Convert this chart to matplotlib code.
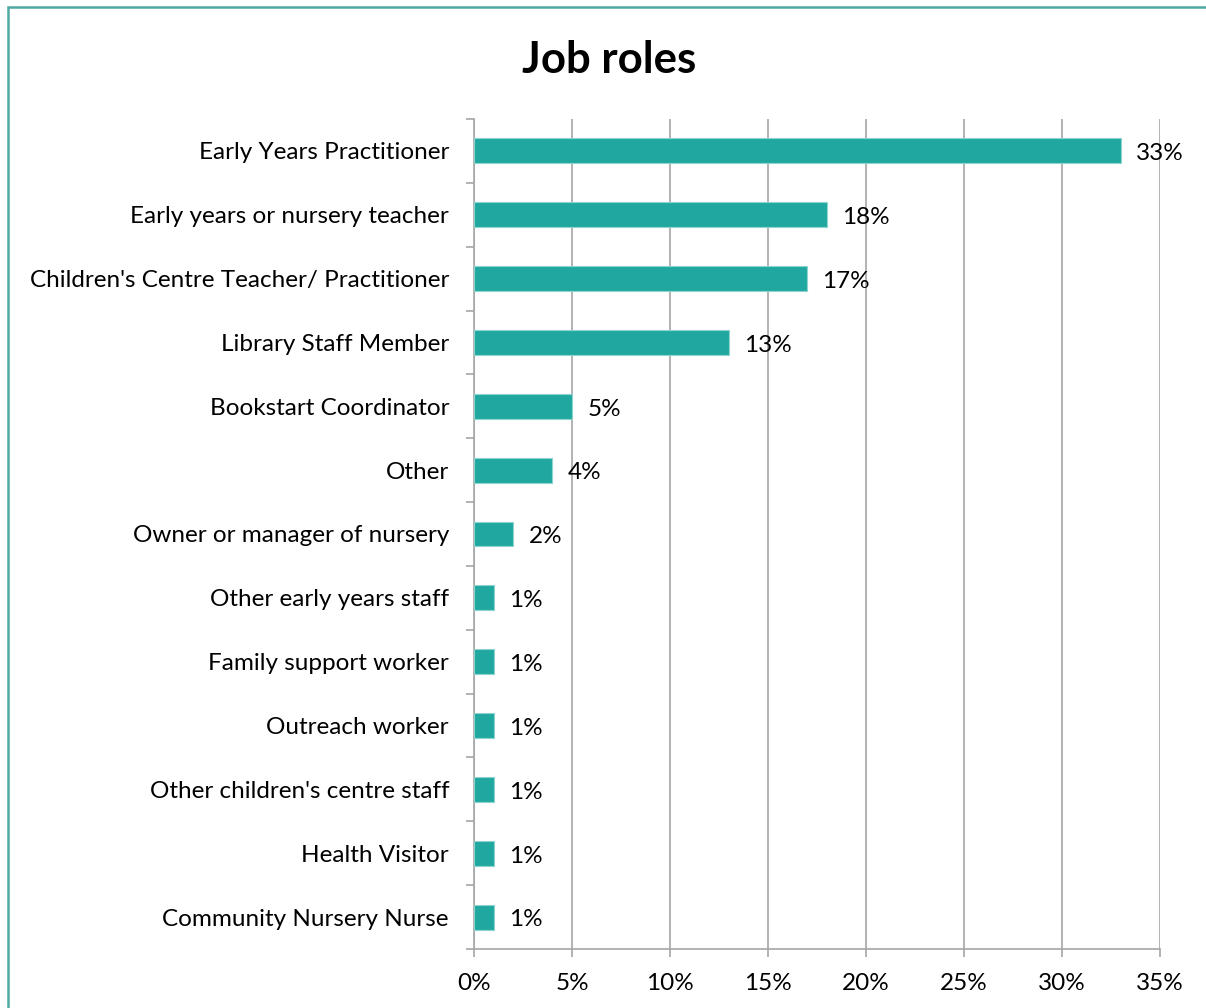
import matplotlib.pyplot as plt
from matplotlib.patches import Rectangle
from matplotlib.ticker import MultipleLocator, FuncFormatter

roles = ['Early Years Practitioner', 'Early years or nursery teacher',
         "Children's Centre Teacher/ Practitioner", 'Library Staff Member',
         'Bookstart Coordinator', 'Other', 'Owner or manager of nursery',
         'Other early years staff', 'Family support worker', 'Outreach worker',
         "Other children's centre staff", 'Health Visitor', 'Community Nursery Nurse']
share = [33, 18, 17, 13, 5, 4, 2, 1, 1, 1, 1, 1, 1]

plt.rcParams['font.family'] = ['Lato', 'DejaVu Sans']

fig = plt.figure(figsize=(12.06, 10.08), dpi=100)
ax = fig.add_axes([474 / 1206, 1 - 949 / 1008, 686 / 1206, 830 / 1008])

ypos = list(range(len(roles)))
ax.barh(ypos, share, height=0.39, color='#20A8A0', edgecolor='#8fd3cf', linewidth=0.8, zorder=3)

for y, v in zip(ypos, share):
    ax.annotate(f'{v}%', (v, y), xytext=(11, -2), textcoords='offset points',
                ha='left', va='center', fontsize=17.5, color='black', zorder=4)

ax.set_xlim(0, 35)
ax.set_ylim(len(roles) - 0.5, -0.5)
ax.xaxis.set_major_locator(MultipleLocator(5))
ax.xaxis.set_major_formatter(FuncFormatter(lambda x, p: f'{x:.0f}%'))
ax.grid(axis='x', color='#a6a6a6', linewidth=1.2, zorder=0)

ax.set_yticks(ypos)
ax.set_yticklabels(roles, fontsize=17.5)
ax.set_yticks([i - 0.5 for i in range(len(roles) + 1)], minor=True)
ax.tick_params(axis='y', which='major', length=0, pad=18)
ax.tick_params(axis='y', which='minor', length=6, color='#a6a6a6', width=1.2)
ax.tick_params(axis='x', length=6, color='#a6a6a6', width=1.2, labelsize=17.5, pad=11)

for s in ['top', 'right']:
    ax.spines[s].set_visible(False)
for s in ['left', 'bottom']:
    ax.spines[s].set_color('#a6a6a6')
    ax.spines[s].set_linewidth(1.2)

fig.text(609 / 1206, 1 - 60 / 1008, 'Job roles', ha='center', va='center',
         fontsize=31.5, fontweight='bold')

# teal frame around the chart area
fig.patches.append(Rectangle((8 / 1206, -0.05), 1.1, 1.05 - 7 / 1008, transform=fig.transFigure,
                             fill=False, edgecolor='#4fa8a3', linewidth=1.8))

fig.savefig('out.png', dpi=100)
